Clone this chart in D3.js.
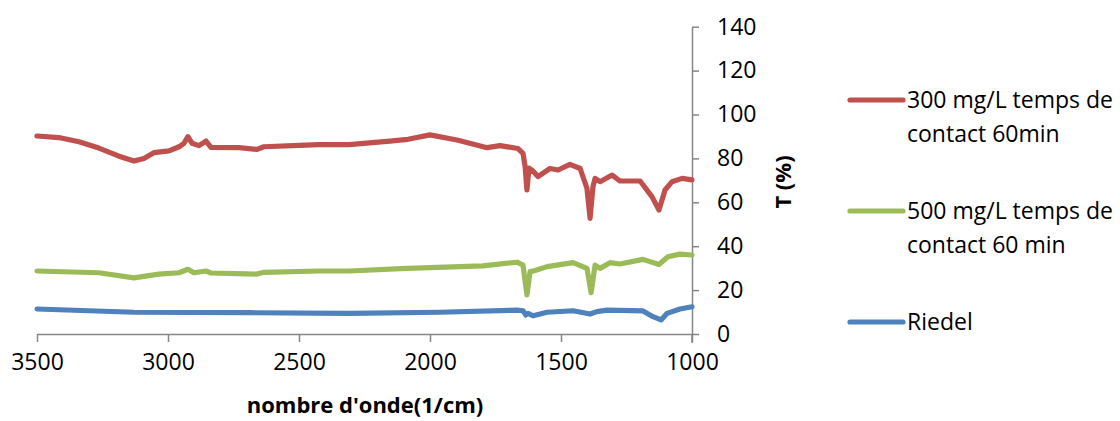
<!DOCTYPE html>
<html>
<head>
<meta charset="utf-8">
<script src="https://cdn.jsdelivr.net/npm/d3@7"></script>
<style>
  html, body { margin: 0; padding: 0; background: #fff; }
  svg { display: block; }
  text { font-family: "Open Sans", "Noto Sans", sans-serif; fill: #000; }
</style>
</head>
<body>
<svg id="chart" width="1120" height="421"></svg>
<script>
// FTIR spectra: transmittance T (%) against wavenumber (1/cm)
const xTicks = [3500, 3000, 2500, 2000, 1500, 1000];
const yTicks = [0, 20, 40, 60, 80, 100, 120, 140];

const seriesNames = ["300 mg/L temps de contact 60min", "500 mg/L temps de contact 60 min", "Riedel"];
const legendLines = [["300 mg/L temps de", "contact 60min"], ["500 mg/L temps de", "contact 60 min"], ["Riedel"]];
const seriesColors = ["#C0504D", "#9BBB59", "#4F81BD"];

// 300 mg/L, 60 min
const wn300 = [3500, 3417, 3340, 3264, 3187, 3130, 3092, 3054, 2996, 2958, 2939, 2924, 2908, 2882, 2855, 2836,
  2729, 2660, 2634, 2500, 2424, 2309, 2153, 2084, 2000, 1897, 1782, 1733, 1664, 1645, 1637, 1630, 1622, 1611,
  1588, 1542, 1511, 1466, 1427, 1401, 1389, 1378, 1370, 1351, 1305, 1275, 1198, 1153, 1126, 1103, 1076, 1038, 1000];
const t300 = [90.2, 89.5, 87.6, 84.7, 81.0, 78.8, 80.0, 82.6, 83.4, 85.3, 86.9, 89.9, 86.9, 85.8, 87.9, 85.0,
  84.9, 84.1, 85.3, 85.9, 86.3, 86.3, 87.9, 88.7, 90.7, 88.4, 84.9, 85.8, 84.5, 82.3, 76.3, 65.6, 75.6, 74.7,
  71.7, 75.4, 74.7, 77.3, 75.4, 66.4, 52.7, 67.1, 70.9, 69.4, 72.4, 69.7, 69.7, 62.6, 56.5, 65.6, 69.4, 70.9, 70.2];

// 500 mg/L, 60 min
const wn500 = [3500, 3264, 3130, 3035, 2958, 2924, 2901, 2855, 2836, 2660, 2634, 2424, 2309, 2088, 1798, 1668,
  1645, 1630, 1618, 1599, 1553, 1454, 1401, 1385, 1370, 1351, 1313, 1275, 1187, 1126, 1092, 1046, 1000];
const t500 = [28.7, 27.9, 25.6, 27.3, 27.9, 29.5, 27.9, 28.7, 27.8, 27.3, 28.1, 28.7, 28.7, 29.9, 31.0, 32.7,
  31.4, 17.8, 28.4, 28.9, 30.7, 32.5, 29.9, 18.8, 31.4, 29.9, 32.5, 31.9, 34.0, 31.7, 35.2, 36.4, 36.0];

// Riedel reference
const wnRiedel = [3500, 3130, 2691, 2309, 1962, 1668, 1645, 1634, 1626, 1607, 1553, 1454, 1389, 1363, 1324,
  1187, 1149, 1118, 1095, 1046, 1000];
const tRiedel = [11.4, 9.9, 9.7, 9.4, 9.9, 10.9, 10.6, 8.7, 9.4, 8.3, 9.9, 10.6, 9.1, 10.2, 10.9,
  10.5, 7.9, 6.4, 9.4, 11.4, 12.4];

const series = [
  { wn: wn300, t: t300 },
  { wn: wn500, t: t500 },
  { wn: wnRiedel, t: tRiedel }
];

const svg = d3.select("#chart");
const axisColor = "#868686";
const lineWidth = 5.2;

const x = d3.scaleLinear().domain([3500, 1000]).range([37, 692]);
const y = d3.scaleLinear().domain([0, 140]).range([334, 26.7]);

// x axis
const xAxis = svg.append("g").attr("transform", `translate(0,${y(0)})`)
  .call(d3.axisBottom(x).tickValues(xTicks).tickFormat(d3.format("d"))
    .tickSize(8).tickPadding(12).tickSizeOuter(0));
xAxis.select(".domain").attr("stroke", axisColor).attr("stroke-width", 1.5);
xAxis.selectAll(".tick line").attr("stroke", axisColor).attr("stroke-width", 1.5);
xAxis.selectAll(".tick text").attr("font-size", 23).attr("fill", "#000")
  .attr("font-family", "'Open Sans', sans-serif");

// y axis on the right side (low wavenumber end)
const yAxis = svg.append("g").attr("transform", `translate(${x(1000)},0)`)
  .call(d3.axisRight(y).tickValues(yTicks).tickFormat(d3.format("d"))
    .tickSize(7).tickPadding(18).tickSizeOuter(0));
yAxis.select(".domain").attr("stroke", axisColor).attr("stroke-width", 1.5);
yAxis.selectAll(".tick line").attr("stroke", axisColor).attr("stroke-width", 1.5);
yAxis.selectAll(".tick text").attr("font-size", 23).attr("fill", "#000")
  .attr("font-family", "'Open Sans', sans-serif");
// vertical axis continues a little below the horizontal one
svg.append("line")
  .attr("x1", x(1000)).attr("x2", x(1000))
  .attr("y1", y(0)).attr("y2", y(0) + 9)
  .attr("stroke", axisColor).attr("stroke-width", 1.5);

// axis titles
svg.append("text")
  .attr("x", 365).attr("y", 413)
  .attr("text-anchor", "middle")
  .attr("font-size", 22).attr("font-weight", "bold")
  .text("nombre d'onde(1/cm)");

svg.append("text")
  .attr("transform", "translate(791,182) rotate(-90)")
  .attr("text-anchor", "middle")
  .attr("font-size", 22).attr("font-weight", "bold")
  .text("T (%)");

// spectra
const line = d3.line()
  .x((d) => x(d[0]))
  .y((d) => y(d[1]));

series.forEach((s, i) => {
  const pts = s.wn.map((w, k) => [w, s.t[k]]);
  svg.append("path")
    .datum(pts)
    .attr("fill", "none")
    .attr("stroke", seriesColors[i])
    .attr("stroke-width", lineWidth)
    .attr("stroke-linejoin", "round")
    .attr("stroke-linecap", "round")
    .attr("d", line);
});

// legend
const legendY = [100, 211, 322];
const legend = svg.append("g");
seriesNames.forEach((name, i) => {
  const g = legend.append("g").attr("transform", `translate(0,${legendY[i]})`);
  g.append("line")
    .attr("x1", 850).attr("x2", 903)
    .attr("y1", 0).attr("y2", 0)
    .attr("stroke", seriesColors[i])
    .attr("stroke-width", lineWidth)
    .attr("stroke-linecap", "round");
  const txt = g.append("text").attr("font-size", 23);
  legendLines[i].forEach((ln, k) => {
    txt.append("tspan")
      .attr("x", 907)
      .attr("y", 8 + k * 34)
      .text(ln);
  });
});
</script>
</body>
</html>
